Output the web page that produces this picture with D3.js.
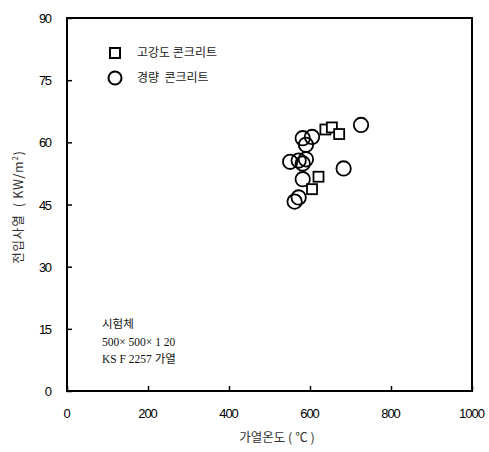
<!DOCTYPE html>
<html><head><meta charset="utf-8">
<script src="https://cdn.jsdelivr.net/npm/d3@7"></script>
<style>body{margin:0;background:#fff}svg{display:block}text{white-space:pre}</style>
</head><body>
<svg id="c" width="489" height="452"></svg>
<script>
const xTicks = [0, 200, 400, 600, 800, 1000];
const yTicks = [0, 15, 30, 45, 60, 75, 90];
const hsTemp = [638, 654, 672, 621, 605];
const hsFlux = [63.1, 63.6, 62.0, 51.7, 48.7];
const lwTemp = [726, 582, 605, 590, 551, 572, 590, 582, 683, 582, 572, 562];
const lwFlux = [64.2, 61.0, 61.3, 59.4, 55.3, 55.6, 55.9, 54.9, 53.7, 51.1, 46.7, 45.7];
const legendLabels = ["고강도 콘크리트", "경량  콘크리트"];
const noteLines = ["시험체", "500× 500× 1 20", "KS F 2257 가열"];

const svg = d3.select("#c");
const L = 67, R = 472, T = 18, B = 391;
const x = d3.scaleLinear().domain([0, 1000]).range([L, R]);
const y = d3.scaleLinear().domain([0, 90]).range([B, T]);

const sans = "'Liberation Sans', Arial, sans-serif";
const kr = "'Noto Sans CJK KR', sans-serif";

// frame
svg.append("rect").attr("x", L).attr("y", T).attr("width", R - L).attr("height", B - T)
  .attr("fill", "none").attr("stroke", "#000").attr("stroke-width", 2);

// y axis ticks (inward)
const ya = d3.axisRight(y).tickValues(yTicks).tickSize(5).tickFormat("");
svg.append("g").attr("transform", `translate(${L},0)`).call(ya)
  .call(g => { g.select(".domain").remove(); g.selectAll("line").attr("stroke-width", 1.5); });
svg.append("g").selectAll("text").data(yTicks).join("text")
  .attr("x", 52).attr("y", d => y(d) + 5).attr("text-anchor", "end")
  .attr("font-family", sans).attr("font-size", 13).attr("textLength", d => String(d).length * 6.5)
  .text(d => d);

// x axis ticks (inward)
const xa = d3.axisTop(x).tickValues(xTicks).tickSize(5).tickFormat("");
svg.append("g").attr("transform", `translate(0,${B})`).call(xa)
  .call(g => { g.select(".domain").remove(); g.selectAll("line").attr("stroke-width", 1.5); });
svg.append("g").selectAll("text").data(xTicks).join("text")
  .attr("x", d => x(d)).attr("y", 418).attr("text-anchor", "middle")
  .attr("font-family", sans).attr("font-size", 13).attr("textLength", d => String(d).length * 6.5)
  .text(d => d);

// axis titles
svg.append("text").attr("x", 277).attr("y", 442).attr("text-anchor", "middle")
  .attr("font-family", kr).attr("font-size", 12.5).attr("fill", "#333").text("가열온도 ( ℃ )");
svg.append("text").attr("transform", "translate(23,207) rotate(-90)").attr("text-anchor", "middle")
  .attr("font-family", kr).attr("font-size", 12.5).attr("fill", "#333").attr("letter-spacing", 0.8)
  .html("전입사열  ( KW/m<tspan dy='-5' font-size='8'>2</tspan><tspan dy='5'>)</tspan>");

// data: circles (lightweight)
svg.append("g").selectAll("circle").data(lwTemp.map((t, i) => [t, lwFlux[i]])).join("circle")
  .attr("cx", d => x(d[0])).attr("cy", d => y(d[1])).attr("r", 7.2)
  .attr("fill", "none").attr("stroke", "#000").attr("stroke-width", 1.8);
// data: squares (high strength)
const s = 10;
svg.append("g").selectAll("rect").data(hsTemp.map((t, i) => [t, hsFlux[i]])).join("rect")
  .attr("x", d => x(d[0]) - s / 2).attr("y", d => y(d[1]) - s / 2).attr("width", s).attr("height", s)
  .attr("fill", "#fff").attr("stroke", "#000").attr("stroke-width", 1.8);

// legend
svg.append("rect").attr("x", 110).attr("y", 48).attr("width", 10).attr("height", 10)
  .attr("fill", "none").attr("stroke", "#000").attr("stroke-width", 2);
svg.append("circle").attr("cx", 115).attr("cy", 78).attr("r", 6.5)
  .attr("fill", "none").attr("stroke", "#000").attr("stroke-width", 2);
svg.append("g").selectAll("text").data(legendLabels).join("text")
  .attr("x", 137).attr("y", (d, i) => 57 + i * 25)
  .attr("font-family", kr).attr("font-size", 12).attr("fill", "#222").text(d => d);

// note
svg.append("g").selectAll("text").data(noteLines).join("text")
  .attr("x", 102).attr("y", (d, i) => 328 + i * 17.5)
  .attr("font-family", "'Liberation Serif', 'Noto Sans CJK KR', serif").attr("font-size", 11.5)
  .attr("fill", "#111").text(d => d);
</script>
</body></html>
